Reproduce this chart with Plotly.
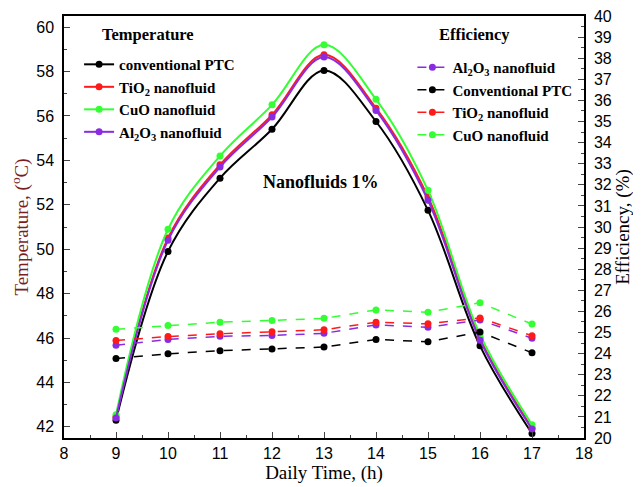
import plotly.graph_objects as go

# Data
hours = [9, 10, 11, 12, 13, 14, 15, 16, 17]

temp_conventional = [42.3, 49.9, 53.2, 55.4, 58.05, 55.75, 51.75, 45.65, 41.7]
temp_tio2 = [42.45, 50.5, 53.8, 56.05, 58.75, 56.35, 52.35, 46.0, 41.95]
temp_cuo = [42.55, 50.9, 54.2, 56.5, 59.2, 56.75, 52.65, 46.15, 42.1]
temp_al2o3 = [42.4, 50.4, 53.7, 55.95, 58.65, 56.25, 52.2, 45.9, 41.9]

eff_conventional = [23.77, 23.99, 24.14, 24.22, 24.31, 24.67, 24.56, 25.02, 24.04]
eff_tio2 = [24.62, 24.81, 24.94, 25.04, 25.13, 25.49, 25.41, 25.69, 24.85]
eff_cuo = [25.15, 25.33, 25.49, 25.57, 25.67, 26.07, 25.96, 26.41, 25.40]
eff_al2o3 = [24.40, 24.67, 24.82, 24.86, 24.96, 25.36, 25.25, 25.59, 24.73]

BLACK = '#000000'
RED = '#ff1a1a'
GREEN = '#33ff33'
PURPLE = '#8a2be2'
SERIF = 'Liberation Serif'
SANS = 'Liberation Sans'

fig = go.Figure()

temp_series = [('conventional PTC', temp_conventional, BLACK),
               ('TiO<sub>2</sub> nanofluid', temp_tio2, RED),
               ('CuO nanofluid', temp_cuo, GREEN),
               ('Al<sub>2</sub>O<sub>3</sub> nanofluid', temp_al2o3, PURPLE)]
for name, vals, color in temp_series:
    fig.add_trace(go.Scatter(x=hours, y=vals, name=name, mode='lines+markers',
                             line={'color': color, 'width': 2, 'shape': 'spline'},
                             marker={'color': color, 'size': 7},
                             legend='legend', yaxis='y'))

eff_series = [('Al<sub>2</sub>O<sub>3</sub> nanofluid', eff_al2o3, PURPLE),
              ('Conventional PTC', eff_conventional, BLACK),
              ('TiO<sub>2</sub> nanofluid', eff_tio2, RED),
              ('CuO nanofluid', eff_cuo, GREEN)]
for name, vals, color in eff_series:
    fig.add_trace(go.Scatter(x=hours, y=vals, name=name, mode='lines+markers',
                             line={'color': color, 'width': 1.5, 'dash': 'dash'},
                             marker={'color': color, 'size': 7},
                             legend='legend2', yaxis='y2'))

legend_font = {'family': SERIF, 'size': 15, 'color': 'black', 'weight': 'bold'}
tick_font = {'family': SANS, 'size': 16, 'color': 'black'}

# page body adds an 8px offset, so the figure is 8px smaller on each side
fig.update_layout(
    width=633, height=479,
    margin={'l': 56, 'r': 57, 't': 8, 'b': 49, 'autoexpand': False},
    plot_bgcolor='white', paper_bgcolor='white',
    xaxis={'range': [8, 18], 'dtick': 1, 'ticks': 'inside', 'ticklen': 6,
           'minor': {'dtick': 0.5, 'ticks': 'inside', 'ticklen': 3},
           'showline': True, 'linecolor': 'black', 'linewidth': 1.5, 'mirror': True,
           'showgrid': False, 'zeroline': False, 'automargin': False,
           'tickfont': tick_font, 'ticklabeloverflow': 'allow',
           'title': {'text': 'Daily Time, (h)', 'standoff': 4,
                     'font': {'family': SERIF, 'size': 19, 'color': 'black'}}},
    yaxis={'range': [41.5, 60.5], 'dtick': 2, 'ticks': 'inside', 'ticklen': 6,
           'minor': {'dtick': 1, 'ticks': 'inside', 'ticklen': 3},
           'showline': True, 'linecolor': 'black', 'linewidth': 1.5,
           'showgrid': False, 'zeroline': False, 'automargin': False,
           'tickfont': tick_font, 'ticklabelstandoff': 5, 'ticklabeloverflow': 'allow',
           'title': {'text': 'Temperature, (<sup>o</sup>C)', 'standoff': 6,
                     'font': {'family': SERIF, 'size': 19, 'color': '#7a1f1f'}}},
    yaxis2={'range': [20, 40], 'dtick': 1, 'ticks': 'inside', 'ticklen': 6,
            'minor': {'dtick': 0.5, 'ticks': 'inside', 'ticklen': 3},
            'overlaying': 'y', 'side': 'right',
            'showline': True, 'linecolor': 'black', 'linewidth': 1.5,
            'showgrid': False, 'zeroline': False, 'automargin': False,
            'tickfont': tick_font, 'ticklabelstandoff': 5, 'ticklabeloverflow': 'allow',
            'title': {'text': 'Efficiency, (%)', 'standoff': 4,
                      'font': {'family': SERIF, 'size': 19, 'color': 'black'}}},
    legend={'x': 0.029, 'y': 0.924, 'xanchor': 'left', 'yanchor': 'top',
            'bgcolor': 'rgba(0,0,0,0)', 'font': legend_font, 'itemwidth': 30,
            'tracegroupgap': 0},
    legend2={'x': 0.67, 'y': 0.917, 'xanchor': 'left', 'yanchor': 'top',
             'bgcolor': 'rgba(0,0,0,0)', 'font': legend_font, 'itemwidth': 30,
             'tracegroupgap': 0},
    annotations=[
        {'text': 'Temperature', 'x': 0.07, 'y': 0.955, 'xref': 'paper', 'yref': 'paper',
         'xanchor': 'left', 'yanchor': 'middle', 'showarrow': False,
         'font': {'family': SERIF, 'size': 16.5, 'color': 'black', 'weight': 'bold'}},
        {'text': 'Efficiency', 'x': 0.717, 'y': 0.955, 'xref': 'paper', 'yref': 'paper',
         'xanchor': 'left', 'yanchor': 'middle', 'showarrow': False,
         'font': {'family': SERIF, 'size': 16.5, 'color': 'black', 'weight': 'bold'}},
        {'text': 'Nanofluids 1%', 'x': 12.95, 'y': 53.04, 'xref': 'x', 'yref': 'y',
         'showarrow': False,
         'font': {'family': SERIF, 'size': 18, 'color': 'black', 'weight': 'bold'}},
    ],
)

fig.write_html('out.html')
